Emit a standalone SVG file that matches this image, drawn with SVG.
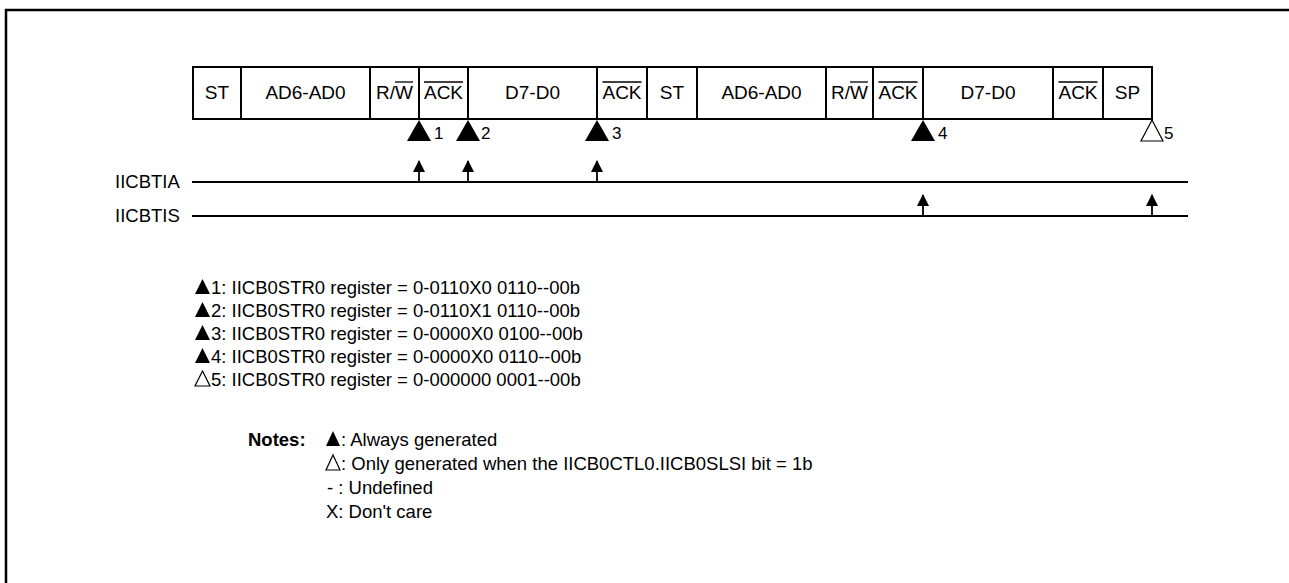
<svg xmlns="http://www.w3.org/2000/svg" width="1289" height="583" viewBox="0 0 1289 583">
<style>
text{font-family:"Liberation Sans",Arial,sans-serif;fill:#000}
.f{font-size:19px;text-anchor:middle}
.s{font-size:18.5px}
.l{font-size:18.5px}
.m{font-size:18.5px}
.n{font-size:17px}
.b{font-weight:bold;font-size:18.5px}
.cell{fill:#fff;stroke:#000;stroke-width:2}
.ov{stroke:#000;stroke-width:1.3}
.sig{stroke:#000;stroke-width:1.8;fill:none}
.tri{fill:#000}
.otri{fill:#fff;stroke:#000;stroke-width:1.2}
</style>
<defs>
<marker id="ah" markerWidth="12" markerHeight="12" refX="11" refY="6" orient="auto" markerUnits="userSpaceOnUse" viewBox="0 0 12 12">
<path d="M0,0 L12,6 L0,12 Z" fill="#000"/>
</marker>
</defs>
<rect width="1289" height="583" fill="#fff"/>
<path d="M6,590 V10 H1295" fill="none" stroke="#000" stroke-width="2.5"/>

<g id="field1"><rect class="cell" x="193" y="67" width="48" height="52"/><text class="f" x="217" y="99">ST</text></g>
<g id="field2"><rect class="cell" x="241" y="67" width="129" height="52"/><text class="f" x="305.5" y="99">AD6-AD0</text></g>
<g id="field3"><rect class="cell" x="370" y="67" width="49" height="52"/><text class="f" x="394.5" y="99">R/W</text><line class="ov" x1="395" y1="82" x2="413" y2="82"/></g>
<g id="field4"><rect class="cell" x="419" y="67" width="49" height="52"/><text class="f" x="443.5" y="99">ACK</text><line class="ov" x1="424" y1="82" x2="463" y2="82"/></g>
<g id="field5"><rect class="cell" x="468" y="67" width="129" height="52"/><text class="f" x="532.5" y="99">D7-D0</text></g>
<g id="field6"><rect class="cell" x="597" y="67" width="50" height="52"/><text class="f" x="622" y="99">ACK</text><line class="ov" x1="602.5" y1="82" x2="641.5" y2="82"/></g>
<g id="field7"><rect class="cell" x="647" y="67" width="50" height="52"/><text class="f" x="672" y="99">ST</text></g>
<g id="field8"><rect class="cell" x="697" y="67" width="129" height="52"/><text class="f" x="761.5" y="99">AD6-AD0</text></g>
<g id="field9"><rect class="cell" x="826" y="67" width="47" height="52"/><text class="f" x="849.5" y="99">R/W</text><line class="ov" x1="850" y1="82" x2="868" y2="82"/></g>
<g id="field10"><rect class="cell" x="873" y="67" width="50" height="52"/><text class="f" x="898" y="99">ACK</text><line class="ov" x1="878.5" y1="82" x2="917.5" y2="82"/></g>
<g id="field11"><rect class="cell" x="923" y="67" width="130" height="52"/><text class="f" x="988" y="99">D7-D0</text></g>
<g id="field12"><rect class="cell" x="1053" y="67" width="50" height="52"/><text class="f" x="1078" y="99">ACK</text><line class="ov" x1="1058.5" y1="82" x2="1097.5" y2="82"/></g>
<g id="field13"><rect class="cell" x="1103" y="67" width="49" height="52"/><text class="f" x="1127.5" y="99">SP</text></g>

<g id="mark1"><path class="tri" d="M419,120 L431,141 L407,141 Z"/><text class="n" x="434" y="139">1</text></g>
<g id="mark2"><path class="tri" d="M468,120 L480,141 L456,141 Z"/><text class="n" x="481" y="139">2</text></g>
<g id="mark3"><path class="tri" d="M597,120 L609,141 L585,141 Z"/><text class="n" x="612" y="139">3</text></g>
<g id="mark4"><path class="tri" d="M923,120 L935,141 L911,141 Z"/><text class="n" x="938" y="139">4</text></g>
<g id="mark5"><path class="otri" d="M1152,120 L1163,141 L1141,141 Z"/><text class="n" x="1164" y="139">5</text></g>

<g id="IICBTIA"><text class="s" x="115" y="188">IICBTIA</text></g>
<g id="IICBTIS"><text class="s" x="115" y="222">IICBTIS</text></g>

<g id="connectors">
<line class="sig" x1="192" y1="182" x2="1188" y2="182"/>
<line class="sig" x1="192" y1="216" x2="1188" y2="216"/>
<line class="sig" x1="419" y1="182" x2="419" y2="161" marker-end="url(#ah)"/>
<line class="sig" x1="468" y1="182" x2="468" y2="161" marker-end="url(#ah)"/>
<line class="sig" x1="597" y1="182" x2="597" y2="161" marker-end="url(#ah)"/>
<line class="sig" x1="923" y1="216" x2="923" y2="195" marker-end="url(#ah)"/>
<line class="sig" x1="1152" y1="216" x2="1152" y2="195" marker-end="url(#ah)"/>
</g>

<g id="legend">
<path class="tri" d="M202.5,279 L210,294 L195,294 Z"/><text class="l" x="211" y="294">1: IICB0STR0 register = 0-0110X0 0110--00b</text>
<path class="tri" d="M202.5,302 L210,317 L195,317 Z"/><text class="l" x="211" y="317">2: IICB0STR0 register = 0-0110X1 0110--00b</text>
<path class="tri" d="M202.5,325 L210,340 L195,340 Z"/><text class="l" x="211" y="340">3: IICB0STR0 register = 0-0000X0 0100--00b</text>
<path class="tri" d="M202.5,348 L210,363 L195,363 Z"/><text class="l" x="211" y="363">4: IICB0STR0 register = 0-0000X0 0110--00b</text>
<path class="otri" d="M202.5,371 L210,386 L195,386 Z"/><text class="l" x="211" y="386">5: IICB0STR0 register = 0-000000 0001--00b</text>
</g>

<g id="notes">
<text class="b" x="248" y="446">Notes:</text>
<path class="tri" d="M333,431 L340,446 L326,446 Z"/><text class="m" x="341" y="446">: Always generated</text>
<path class="otri" d="M333,455 L340,470 L326,470 Z"/><text class="m" x="341" y="470">: Only generated when the IICB0CTL0.IICB0SLSI bit = 1b</text>
<text class="m" x="327" y="494">- : Undefined</text>
<text class="m" x="326" y="518">X: Don't care</text>
</g>
</svg>
